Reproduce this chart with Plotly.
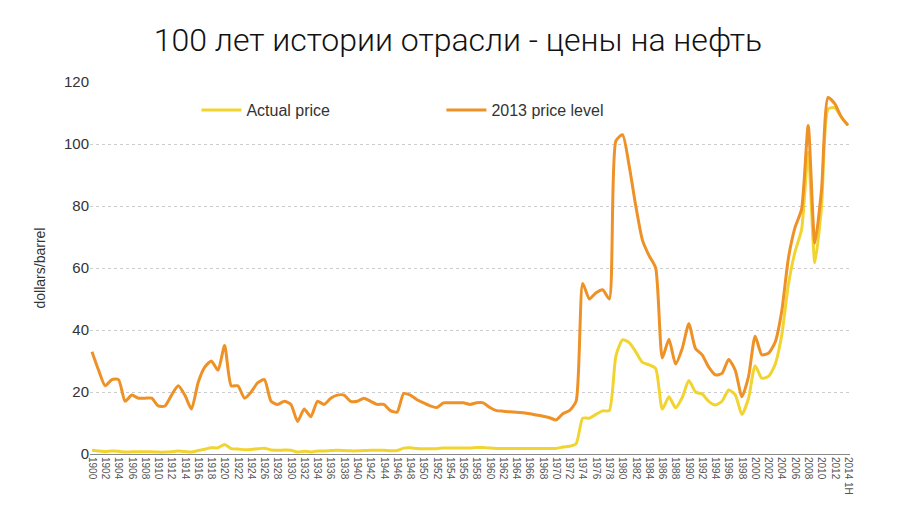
import plotly.graph_objects as go

years = [str(y) for y in range(1900, 2014)] + ["2014 1H"]
actual = [1.19,0.96,0.80,0.94,0.86,0.62,0.73,0.72,0.72,0.70,0.61,0.61,0.74,0.95,0.81,0.64,1.10,1.56,1.98,2.01,
          3.07,1.73,1.61,1.34,1.43,1.68,1.88,1.30,1.17,1.27,1.19,0.65,0.87,0.67,1.00,0.97,1.09,1.18,1.13,1.02,
          1.02,1.14,1.19,1.20,1.21,1.05,1.12,1.90,1.99,1.78,1.71,1.71,1.71,1.93,1.93,1.93,1.93,1.90,2.08,2.08,
          1.90,1.80,1.80,1.80,1.80,1.80,1.80,1.80,1.80,1.80,1.80,2.24,2.48,3.29,11.58,11.53,12.80,13.92,14.02,31.61,
          36.83,35.93,32.97,29.55,28.78,27.56,14.43,18.44,14.92,18.23,23.73,20.00,19.32,16.97,15.82,17.02,20.67,19.09,12.72,17.97,
          28.50,24.44,25.02,28.83,38.27,54.52,65.14,72.39,97.26,61.67,79.50,111.26,111.67,108.66,106.0]
real2013 = [33,27,22,24,24,17,19,18,18,18,15.5,15.5,19,22,19,14.5,23,28,30,27,
            35,22,22,18,20,23,24,17,16,17,16,10.5,14.5,12,17,16,18,19,19,17,
            17,18,17,16,16,14,13.5,19.5,19,17.5,16.5,15.5,15,16.5,16.5,16.5,16.5,16,16.5,16.5,
            15,14,13.8,13.6,13.5,13.3,13,12.6,12.2,11.7,11,13,14,17,55,50,52,53,50,101,
            103,93,80,69,64,60,31,37,29,34,42,34,32,28,25.5,26,30.5,27,18.5,25,
            38,32,32.5,36,46,63,73,79,106,68,85,115,113,108.7,106]

fig = go.Figure()
fig.add_trace(go.Scatter(x=years, y=actual, name="Actual price", mode="lines",
                         line=dict(color="#F2D431", width=3, shape="spline", smoothing=0.6)))
fig.add_trace(go.Scatter(x=years, y=real2013, name="2013 price level", mode="lines",
                         line=dict(color="#EE9127", width=3, shape="spline", smoothing=0.6)))

fig.update_layout(
    width=900, height=506, paper_bgcolor="white", plot_bgcolor="white",
    margin=dict(l=82, r=58, t=74, b=60),
    font=dict(family="Liberation Sans", color="#333"),
    title=dict(text="100 лет истории отрасли - цены на нефть", x=0.5, xanchor="center",
               y=0.96, yanchor="top", font=dict(size=32, color="#111", family="Roboto", weight=300)),
    legend=dict(orientation="h", x=0.14, y=0.97, xanchor="left", yanchor="top", itemwidth=40,
                font=dict(size=16, color="#333"), bgcolor="rgba(0,0,0,0)", entrywidth=190),
    xaxis=dict(type="category", tickmode="array", tickvals=years[::2] + ["2014 1H"],
               tickangle=90, tickfont=dict(size=10, color="#555"), showgrid=False,
               showline=True, linecolor="#888", ticks="", range=[-0.3, 114.3]),
    yaxis=dict(range=[0, 120], dtick=20, showgrid=True, gridcolor="#ccc", griddash="dot",
               zeroline=False, tickfont=dict(size=15, color="#333"),
               title=dict(text="dollars/barrel", font=dict(size=14)), ticks=""),
)
fig.write_html("out.html")
